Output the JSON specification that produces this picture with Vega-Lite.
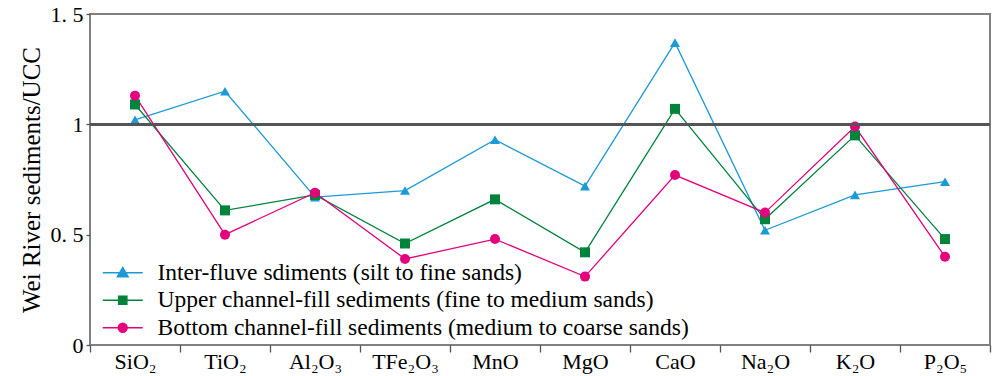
{
  "$schema": "https://vega.github.io/schema/vega-lite/v6.json",
  "width": 900,
  "height": 331,
  "autosize": "none",
  "padding": {"left": 90, "top": 14, "right": 2, "bottom": 31},
  "config": {
    "view": {"stroke": "#808080", "strokeWidth": 2},
    "font": "Liberation Serif"
  },
  "resolve": {"legend": {"color": "independent"}},
  "data": {
    "values": [
      {"series": "Inter-fluve sdiments (silt to fine sands)", "oxide": "SiO₂", "value": 1.02},
      {"series": "Inter-fluve sdiments (silt to fine sands)", "oxide": "TiO₂", "value": 1.15},
      {"series": "Inter-fluve sdiments (silt to fine sands)", "oxide": "Al₂O₃", "value": 0.67},
      {"series": "Inter-fluve sdiments (silt to fine sands)", "oxide": "TFe₂O₃", "value": 0.70},
      {"series": "Inter-fluve sdiments (silt to fine sands)", "oxide": "MnO", "value": 0.93},
      {"series": "Inter-fluve sdiments (silt to fine sands)", "oxide": "MgO", "value": 0.72},
      {"series": "Inter-fluve sdiments (silt to fine sands)", "oxide": "CaO", "value": 1.37},
      {"series": "Inter-fluve sdiments (silt to fine sands)", "oxide": "Na₂O", "value": 0.52},
      {"series": "Inter-fluve sdiments (silt to fine sands)", "oxide": "K₂O", "value": 0.68},
      {"series": "Inter-fluve sdiments (silt to fine sands)", "oxide": "P₂O₅", "value": 0.74},
      {"series": "Upper channel-fill sediments (fine to medium sands)", "oxide": "SiO₂", "value": 1.09},
      {"series": "Upper channel-fill sediments (fine to medium sands)", "oxide": "TiO₂", "value": 0.61},
      {"series": "Upper channel-fill sediments (fine to medium sands)", "oxide": "Al₂O₃", "value": 0.68},
      {"series": "Upper channel-fill sediments (fine to medium sands)", "oxide": "TFe₂O₃", "value": 0.46},
      {"series": "Upper channel-fill sediments (fine to medium sands)", "oxide": "MnO", "value": 0.66},
      {"series": "Upper channel-fill sediments (fine to medium sands)", "oxide": "MgO", "value": 0.42},
      {"series": "Upper channel-fill sediments (fine to medium sands)", "oxide": "CaO", "value": 1.07},
      {"series": "Upper channel-fill sediments (fine to medium sands)", "oxide": "Na₂O", "value": 0.57},
      {"series": "Upper channel-fill sediments (fine to medium sands)", "oxide": "K₂O", "value": 0.95},
      {"series": "Upper channel-fill sediments (fine to medium sands)", "oxide": "P₂O₅", "value": 0.48},
      {"series": "Bottom channel-fill sediments (medium to coarse sands)", "oxide": "SiO₂", "value": 1.13},
      {"series": "Bottom channel-fill sediments (medium to coarse sands)", "oxide": "TiO₂", "value": 0.50},
      {"series": "Bottom channel-fill sediments (medium to coarse sands)", "oxide": "Al₂O₃", "value": 0.69},
      {"series": "Bottom channel-fill sediments (medium to coarse sands)", "oxide": "TFe₂O₃", "value": 0.39},
      {"series": "Bottom channel-fill sediments (medium to coarse sands)", "oxide": "MnO", "value": 0.48},
      {"series": "Bottom channel-fill sediments (medium to coarse sands)", "oxide": "MgO", "value": 0.31},
      {"series": "Bottom channel-fill sediments (medium to coarse sands)", "oxide": "CaO", "value": 0.77},
      {"series": "Bottom channel-fill sediments (medium to coarse sands)", "oxide": "Na₂O", "value": 0.60},
      {"series": "Bottom channel-fill sediments (medium to coarse sands)", "oxide": "K₂O", "value": 0.99},
      {"series": "Bottom channel-fill sediments (medium to coarse sands)", "oxide": "P₂O₅", "value": 0.40}
    ]
  },
  "encoding": {
    "x": {
      "field": "oxide",
      "type": "nominal",
      "sort": null,
      "scale": {
        "type": "band",
        "paddingInner": 0,
        "paddingOuter": 0,
        "domain": ["SiO₂", "TiO₂", "Al₂O₃", "TFe₂O₃", "MnO", "MgO", "CaO", "Na₂O", "K₂O", "P₂O₅"]
      },
      "axis": {
        "title": null,
        "domain": false,
        "tickBand": "extent",
        "tickSize": 7,
        "tickColor": "#555555",
        "tickWidth": 1.3,
        "labelAngle": 0,
        "labelFont": "Liberation Serif",
        "labelFontSize": 22,
        "labelColor": "#000000",
        "labelPadding": -1,
        "encode": {"ticks": {"update": {"y2": {"value": -7}}}}
      }
    },
    "y": {
      "field": "value",
      "type": "quantitative",
      "scale": {"domain": [0, 1.5], "nice": false, "zero": true},
      "axis": {
        "title": "Wei River sediments/UCC",
        "titleFont": "Liberation Serif",
        "titleFontSize": 25,
        "titleFontWeight": "normal",
        "titleColor": "#000000",
        "titlePadding": 6,
        "values": [0, 0.5, 1, 1.5],
        "labelExpr": "datum.value == 1.5 ? '1. 5' : datum.value == 0.5 ? '0. 5' : datum.value == 1 ? '1' : '0'",
        "labelFont": "Liberation Serif",
        "labelFontSize": 22,
        "labelColor": "#000000",
        "labelPadding": 3,
        "domain": false,
        "grid": false,
        "tickSize": 4,
        "tickColor": "#555555",
        "tickWidth": 1.3
      }
    }
  },
  "layer": [
    {
      "mark": {"type": "line", "strokeWidth": 1.3},
      "encoding": {
        "color": {
          "field": "series",
          "type": "nominal",
          "scale": {
            "domain": ["Inter-fluve sdiments (silt to fine sands)", "Upper channel-fill sediments (fine to medium sands)", "Bottom channel-fill sediments (medium to coarse sands)"],
            "range": ["#1b9ad6", "#00843c", "#e5007d"]
          },
          "legend": {
            "title": null,
            "orient": "none",
            "legendX": 21,
            "legendY": 247,
            "padding": 0,
            "symbolSize": 400,
            "labelFont": "Liberation Serif",
            "labelFontSize": 23.5,
            "labelColor": "#000000",
            "labelOffset": 23,
            "labelLimit": 0,
            "rowPadding": 2.5,
            "encode": {
              "symbols": {
                "update": {
                  "shape": {"signal": "datum.value === 'Inter-fluve sdiments (silt to fine sands)' ? 'M-2,0H2M0,-0.55L0.55,0.4L-0.55,0.4Z' : datum.value === 'Upper channel-fill sediments (fine to medium sands)' ? 'M-2,0H2M-0.42,-0.42H0.42V0.42H-0.42Z' : 'M-2,0H2M-0.45,0A0.45,0.45 0 1 0 0.45,0A0.45,0.45 0 1 0 -0.45,0Z'"},
                  "stroke": {"signal": "scale('color', datum.value)"},
                  "fill": {"signal": "scale('color', datum.value)"},
                  "strokeWidth": {"value": 1.3},
                  "opacity": {"value": 1}
                }
              }
            }
          }
        }
      }
    },
    {
      "mark": {"type": "point", "filled": true, "opacity": 1, "size": 100},
      "encoding": {
        "color": {
          "field": "series",
          "type": "nominal",
          "scale": {
            "domain": ["Inter-fluve sdiments (silt to fine sands)", "Upper channel-fill sediments (fine to medium sands)", "Bottom channel-fill sediments (medium to coarse sands)"],
            "range": ["#1b9ad6", "#00843c", "#e5007d"]
          },
          "legend": null
        },
        "shape": {
          "field": "series",
          "type": "nominal",
          "scale": {
            "domain": ["Inter-fluve sdiments (silt to fine sands)", "Upper channel-fill sediments (fine to medium sands)", "Bottom channel-fill sediments (medium to coarse sands)"],
            "range": ["triangle-up", "square", "circle"]
          },
          "legend": null
        }
      }
    },
    {
      "mark": {"type": "rule", "color": "#555555", "strokeWidth": 2},
      "encoding": {"y": {"datum": 1}, "x": null}
    }
  ]
}
